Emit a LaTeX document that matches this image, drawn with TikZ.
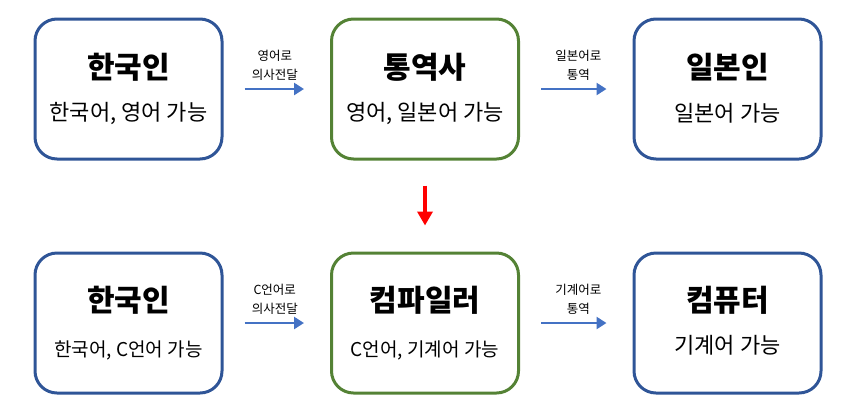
\documentclass[tikz,border=0pt]{standalone}
\usepackage{fontspec}
\newfontfamily\kr{Noto Sans CJK KR}
\usetikzlibrary{arrows.meta}
\usetikzlibrary{positioning}

\definecolor{boxblue}{HTML}{2F5597}
\definecolor{boxgreen}{HTML}{548235}
\definecolor{flowblue}{HTML}{4472C4}

\tikzset{
  person/.style={draw=boxblue, line width=3pt, rounded corners=22pt, minimum width=187pt, minimum height=140pt},
  middle/.style={person, draw=boxgreen},
  heading/.style={font=\kr\bfseries\fontsize{30}{30}\selectfont},
  ability/.style={font=\kr\fontsize{#1}{#1}\selectfont},
  flow/.style={-{Triangle[length=10pt,width=12pt]}, flowblue, line width=2.8pt, shorten <=21pt, shorten >=26pt},
  note/.style={font=\kr\fontsize{12.5}{19}\selectfont, align=center, text=black}
}

\begin{document}
\begin{tikzpicture}[x=1pt, y=-1pt]
\useasboundingbox (0, 0) rectangle (842, 416);
% upper row
\node[person] (ko) at (128.5, 89) {};
\node[middle] (tr) at (425, 89) {};
\node[person] (ja) at (727.5, 89) {};
\node[heading] (koname) at ([yshift=22pt]ko.center) {한국인};
\node[ability=22] (kotext) at ([yshift=-24pt]ko.center) {한국어, 영어 가능};
\node[heading] (trname) at ([yshift=22pt]tr.center) {통역사};
\node[ability=22] (trtext) at ([yshift=-24pt]tr.center) {영어, 일본어 가능};
\node[heading] (janame) at ([yshift=22pt]ja.center) {일본인};
\node[ability=22] (jatext) at ([yshift=-24pt]ja.center) {일본어 가능};
\draw[flow] (ko) -- (tr) node[note, midway, above=4pt, xshift=-2pt]{영어로\\의사전달};
\draw[flow] (tr) -- (ja) node[note, midway, above=4pt, xshift=2pt]{일본어로\\통역};
% lower row
\node[person] (kc) at (128.5, 323) {};
\node[middle] (cc) at (425, 323) {};
\node[person] (pc) at (727.5, 323) {};
\node[heading] (kcname) at ([yshift=23pt]kc.center) {한국인};
\node[ability=19] (kctext) at ([yshift=-27pt]kc.center) {한국어, C언어 가능};
\node[heading] (ccname) at ([yshift=23pt]cc.center) {컴파일러};
\node[ability=19] (cctext) at ([yshift=-27pt]cc.center) {C언어, 기계어 가능};
\node[heading] (pcname) at ([yshift=23pt]pc.center) {컴퓨터};
\node[ability=22] (pctext) at ([yshift=-22pt]pc.center) {기계어 가능};
\draw[flow] (kc) -- (cc) node[note, midway, above=4pt, xshift=-2pt]{C언어로\\의사전달};
\draw[flow] (cc) -- (pc) node[note, midway, above=4pt, xshift=2pt]{기계어로\\통역};
\draw[-{Triangle[length=14pt,width=15pt]}, red, line width=4pt, shorten <=25pt, shorten >=26pt] (tr) -- (cc);
\end{tikzpicture}
\end{document}
